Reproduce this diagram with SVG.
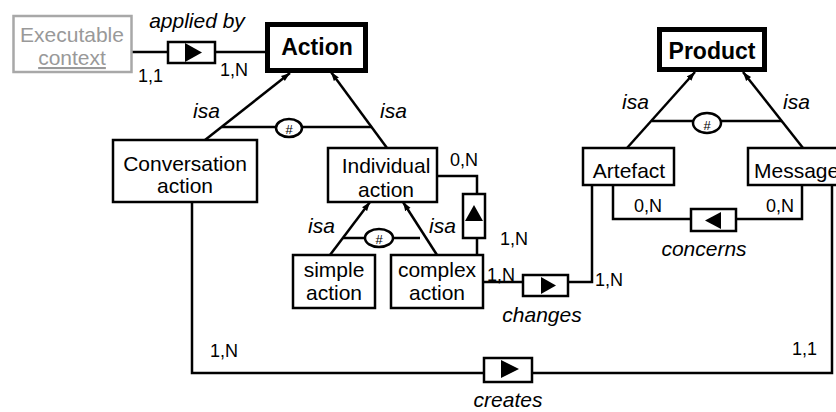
<svg xmlns="http://www.w3.org/2000/svg" width="836" height="412" viewBox="0 0 836 412">
<defs>
<style>
text{font-family:"Liberation Sans",Arial,Helvetica,sans-serif;fill:#000}
.ent{fill:#fff;stroke:#000;stroke-width:2.5}
.main{fill:#fff;stroke:#000;stroke-width:5}
.ghost{fill:#fff;stroke:#a8a8a8;stroke-width:2.5}
.rel{fill:#fff;stroke:#000;stroke-width:2.5}
.tri{fill:#000;stroke:none}
.ln{fill:none;stroke:#000;stroke-width:2.5}
.name{font-size:21px;text-anchor:middle}
.bold{font-size:23px;font-weight:bold;text-anchor:middle}
.lab{font-size:21px;font-style:italic}
.mid{text-anchor:middle}
.card{font-size:18px}
.hash{font-size:13px;text-anchor:middle}
.grey{fill:#999}
</style>
<marker id="arr" viewBox="0 0 10 10" refX="10" refY="5" markerWidth="9" markerHeight="9" markerUnits="userSpaceOnUse" orient="auto">
<path d="M0,1.5 L10,5 L0,8.5 z" fill="#000"/>
</marker>
</defs>
<rect width="836" height="412" fill="#fff"/>

<g id="connectors">
<path class="ln" d="M132 52 H168 M215 52 H265"/>
<path class="ln" d="M205 140 L290 73" marker-end="url(#arr)"/>
<path class="ln" d="M387 148 L331 72" marker-end="url(#arr)"/>
<path class="ln" d="M222 127 H372"/>
<path class="ln" d="M330 255 L370 202" marker-end="url(#arr)"/>
<path class="ln" d="M437 255 L403 202" marker-end="url(#arr)"/>
<path class="ln" d="M343 238 H420"/>
<path class="ln" d="M627 148 L695 72" marker-end="url(#arr)"/>
<path class="ln" d="M803 148 L743 72" marker-end="url(#arr)"/>
<path class="ln" d="M652 121 H782"/>
<path class="ln" d="M437 176 H477 V194 M477 238 V255"/>
<path class="ln" d="M483 282 H523 M568 282 H592 V185"/>
<path class="ln" d="M613 185 V219 H691 M736 219 H802 V185"/>
<path class="ln" d="M192 202 V373 H484 M532 373 H832 V185"/>
</g>

<g id="excl-action">
<ellipse cx="289" cy="128" rx="13" ry="9" class="rel"/>
<text class="hash" x="289" y="134">#</text>
</g>
<g id="excl-individual">
<ellipse cx="379" cy="238" rx="14" ry="9" class="rel"/>
<text class="hash" x="379" y="244">#</text>
</g>
<g id="excl-product">
<ellipse cx="707" cy="123" rx="14" ry="10" class="rel"/>
<text class="hash" x="707" y="130">#</text>
</g>

<g id="executable-context">
<rect class="ghost" x="13.5" y="16" width="118" height="56"/>
<text class="name grey" x="72" y="42">Executable</text>
<text class="name grey" x="72" y="65" text-decoration="underline">context</text>
</g>

<g id="action">
<rect class="main" x="267.5" y="24.5" width="98" height="46"/>
<text class="bold" x="317" y="55">Action</text>
</g>

<g id="product">
<rect class="main" x="659.5" y="29.5" width="105" height="40"/>
<text class="bold" x="712" y="59">Product</text>
</g>

<g id="conversation-action">
<rect class="ent" x="113" y="140" width="144" height="62"/>
<text class="name" x="185" y="171">Conversation</text>
<text class="name" x="185" y="193">action</text>
</g>

<g id="individual-action">
<rect class="ent" x="328" y="148" width="109" height="54"/>
<text class="name" x="386" y="173">Individual</text>
<text class="name" x="386" y="197">action</text>
</g>

<g id="simple-action">
<rect class="ent" x="293" y="255" width="82" height="53"/>
<text class="name" x="334" y="277">simple</text>
<text class="name" x="334" y="300">action</text>
</g>

<g id="complex-action">
<rect class="ent" x="391" y="255" width="92" height="53"/>
<text class="name" x="437" y="277">complex</text>
<text class="name" x="437" y="300">action</text>
</g>

<g id="artefact">
<rect class="ent" x="583" y="148" width="91" height="37"/>
<text class="name" x="629" y="178">Artefact</text>
</g>

<g id="message">
<rect class="ent" x="748" y="148" width="100" height="37"/>
<text class="name" x="754" y="178" style="text-anchor:start">Message</text>
</g>

<g id="applied-by">
<rect class="rel" x="168" y="42" width="47" height="21"/>
<path class="tri" d="M185 43 L185 62 L202 52.5 z"/>
<text class="lab mid" x="197" y="28">applied by</text>
<text class="card" x="138" y="82">1,1</text>
<text class="card" x="220" y="76">1,N</text>
</g>

<g id="composed-of">
<rect class="rel" x="463" y="194" width="22" height="44"/>
<path class="tri" d="M465 221 L483 221 L474 205 z"/>
<text class="card" x="450" y="166">0,N</text>
<text class="card" x="500" y="245">1,N</text>
</g>

<g id="changes">
<rect class="rel" x="523" y="275" width="45" height="21"/>
<path class="tri" d="M541 277 L541 294 L556 285.5 z"/>
<text class="lab mid" x="542" y="322">changes</text>
<text class="card" x="487" y="281">1,N</text>
<text class="card" x="595" y="286">1,N</text>
</g>

<g id="concerns">
<rect class="rel" x="691" y="209" width="45" height="22"/>
<path class="tri" d="M721 212 L721 229 L705 220.5 z"/>
<text class="lab mid" x="704" y="256">concerns</text>
<text class="card" x="634" y="212">0,N</text>
<text class="card" x="766" y="212">0,N</text>
</g>

<g id="creates">
<rect class="rel" x="484" y="358" width="48" height="24"/>
<path class="tri" d="M501 360 L501 378 L519 369 z"/>
<text class="lab mid" x="508" y="407">creates</text>
<text class="card" x="210" y="357">1,N</text>
<text class="card" x="792" y="355">1,1</text>
</g>

<g id="isa-labels">
<text class="lab" x="193" y="118">isa</text>
<text class="lab" x="380" y="118">isa</text>
<text class="lab" x="308" y="233">isa</text>
<text class="lab" x="429" y="233">isa</text>
<text class="lab" x="622" y="109">isa</text>
<text class="lab" x="783" y="109">isa</text>
</g>
</svg>
